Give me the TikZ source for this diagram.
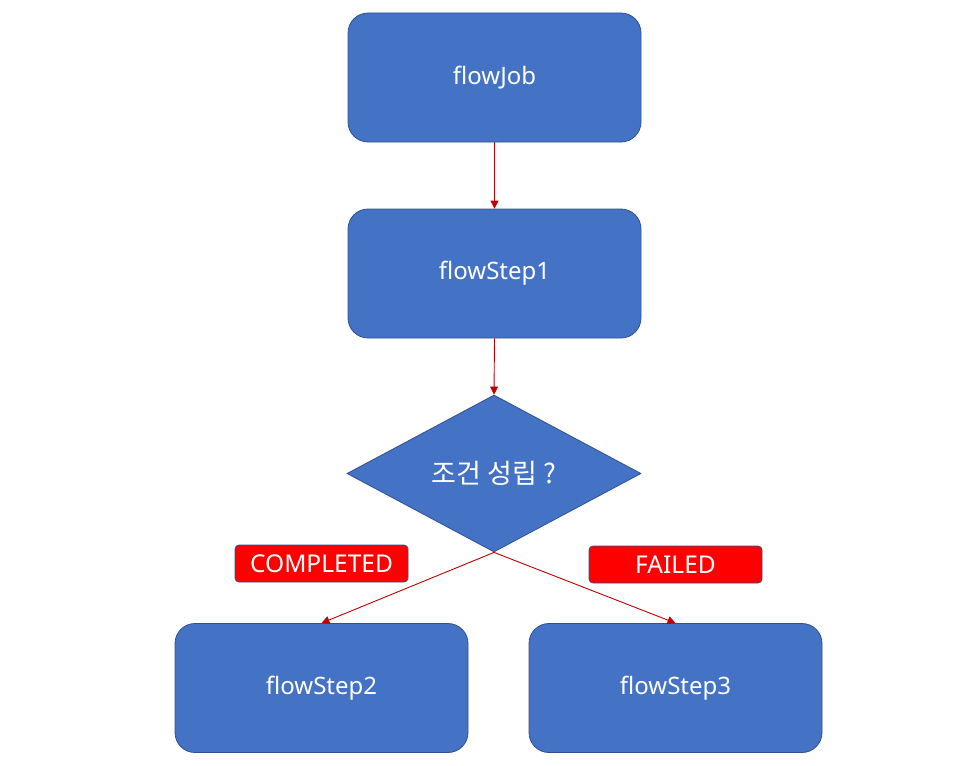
\documentclass[tikz,border=0pt]{standalone}
\usepackage{fontspec}
\setmainfont{Noto Sans}
\newfontfamily\krfont{Noto Sans CJK KR}
\usetikzlibrary{shapes.geometric,arrows.meta}
\definecolor{boxfill}{HTML}{4472C4}
\definecolor{boxline}{HTML}{2F528F}
\definecolor{arrowred}{HTML}{C00000}
\definecolor{labred}{HTML}{FF0000}
\tikzset{
  x=1pt,y=-1pt,
  stepbox/.style={draw=boxline, line width=0.8pt, fill=boxfill, rounded corners=20pt,
    minimum width=293pt, minimum height=129pt, inner sep=0pt, text=white,
    font=\fontsize{24}{28}\selectfont},
  condbox/.style={draw=boxline, line width=0.8pt, fill=boxfill, shape=diamond, aspect=1.87,
    minimum width=294pt, minimum height=157pt, inner sep=0pt, text=white,
    font=\krfont\fontsize{27}{30}\selectfont},
  statelab/.style={draw=boxline, line width=0.8pt, fill=labred, rounded corners=4pt,
    minimum width=173pt, minimum height=37pt, inner sep=0pt, text=white,
    font=\fontsize{24.5}{28}\selectfont},
  conn/.style={draw=arrowred, line width=0.9pt, -{Triangle[length=8pt,width=8pt]}},
}
\begin{document}
\begin{tikzpicture}
\useasboundingbox (0,0) rectangle (957,765);
\node[stepbox] (job) at (494.5,77.5) {flowJob};
\node[stepbox] (s1) at (494.5,273.5) {flowStep1};
\node[condbox] (cond) at (494,473.5) {조건 성립 ?};
\node[stepbox] (s2) at (321.5,688) {flowStep2};
\node[stepbox] (s3) at (675.5,688) {flowStep3};
\node[statelab] (lc) at (321.5,563.5) {COMPLETED};
\node[statelab] (lf) at (675.5,564.5) {FAILED};
\draw[conn] (job.south) -- (s1.north);
\draw[conn] (s1.south) -- (cond.north);
\draw[conn] (cond.south) -- (s2.north);
\draw[conn] (cond.south) -- (s3.north);
\end{tikzpicture}
\end{document}
